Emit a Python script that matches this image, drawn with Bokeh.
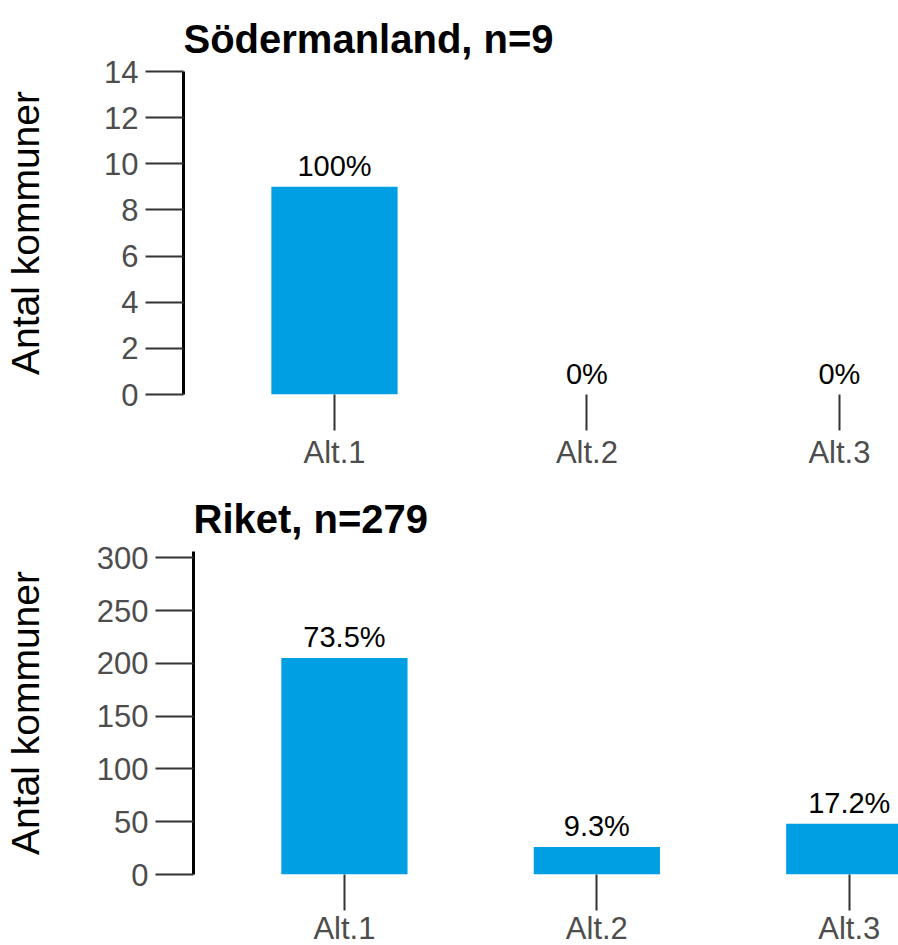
from bokeh.plotting import figure
from bokeh.layouts import column
from bokeh.models import ColumnDataSource, Range1d, FixedTicker
from bokeh.core.properties import value
from bokeh.embed import file_html
from bokeh.resources import INLINE

categories = ["Alt.1", "Alt.2", "Alt.3"]
sod_counts = [9, 0, 0]
sod_labels = ["100%", "0%", "0%"]
sod_ticks = [0, 2, 4, 6, 8, 10, 12, 14]
riket_counts = [205, 26, 48]
riket_labels = ["73.5%", "9.3%", "17.2%"]
riket_ticks = [0, 50, 100, 150, 200, 250, 300]

FONT = "Liberation Sans"
BAR = "#009FE3"


def make(title, counts, labels, ticks, y_end, x_end, fw, left, top, bottom, xstand, lstand):
    xs = list(range(len(categories)))
    src = ColumnDataSource(dict(x=xs, y=counts, lab=labels))
    p = figure(frame_width=fw, frame_height=323, output_backend="svg", toolbar_location=None,
               x_range=Range1d(-0.598, x_end), y_range=Range1d(0, y_end),
               min_border_left=left, min_border_right=0, min_border_top=top,
               min_border_bottom=bottom, title=title)
    if "frame_align" in p.properties():
        p.frame_align = False
    p.vbar(x="x", top="y", bottom=0, width=0.5, source=src, fill_color=BAR, line_color=None)
    p.text(x="x", y="y", text="lab", source=src, text_align="center", text_baseline="bottom",
           y_offset=-5, text_font=value(FONT), text_font_size="29px", text_color="black")
    p.title.text_font = FONT
    p.title.text_font_size = "40px"
    p.title.text_font_style = "bold"
    p.title.text_color = "black"
    p.title.align = "left"
    p.title.standoff = 22
    p.outline_line_color = None
    p.grid.visible = False
    p.background_fill_color = "white"
    p.border_fill_color = "white"

    xa = p.xaxis[0]
    xa.ticker = FixedTicker(ticks=xs)
    xa.major_label_overrides = {i: c for i, c in enumerate(categories)}
    xa.axis_line_color = None
    xa.major_tick_line_color = "#333333"
    xa.major_tick_line_width = 2
    xa.major_tick_in = 0
    xa.major_tick_out = 36
    xa.minor_tick_line_color = None
    xa.major_label_text_font = FONT
    xa.major_label_text_font_size = "31px"
    xa.major_label_text_color = "#4d4d4d"
    xa.major_label_standoff = xstand

    ya = p.yaxis[0]
    ya.ticker = FixedTicker(ticks=ticks)
    ya.axis_line_color = "black"
    ya.axis_line_width = 3
    ya.major_tick_line_color = "#333333"
    ya.major_tick_line_width = 2
    ya.major_tick_in = 0
    ya.major_tick_out = 38
    ya.minor_tick_line_color = None
    ya.major_label_text_font = FONT
    ya.major_label_text_font_size = "31px"
    ya.major_label_text_color = "#4d4d4d"
    ya.major_label_standoff = 7
    ya.axis_label = "Antal kommuner"
    ya.axis_label_text_font = FONT
    ya.axis_label_text_font_size = "39px"
    ya.axis_label_text_font_style = "normal"
    ya.axis_label_text_color = "black"
    ya.axis_label_standoff = lstand
    return p


p1 = make("Södermanland, n=9", sod_counts, sod_labels, sod_ticks, 14, 2.234, 715, 183, 71, 85, 4, 54)
p2 = make("Riket, n=279", riket_counts, riket_labels, riket_ticks, 306, 2.199, 706, 192, 72, 60, 0, 47)

layout = column(p1, p2, spacing=0)
open("out.html", "w").write(file_html(layout, INLINE))
